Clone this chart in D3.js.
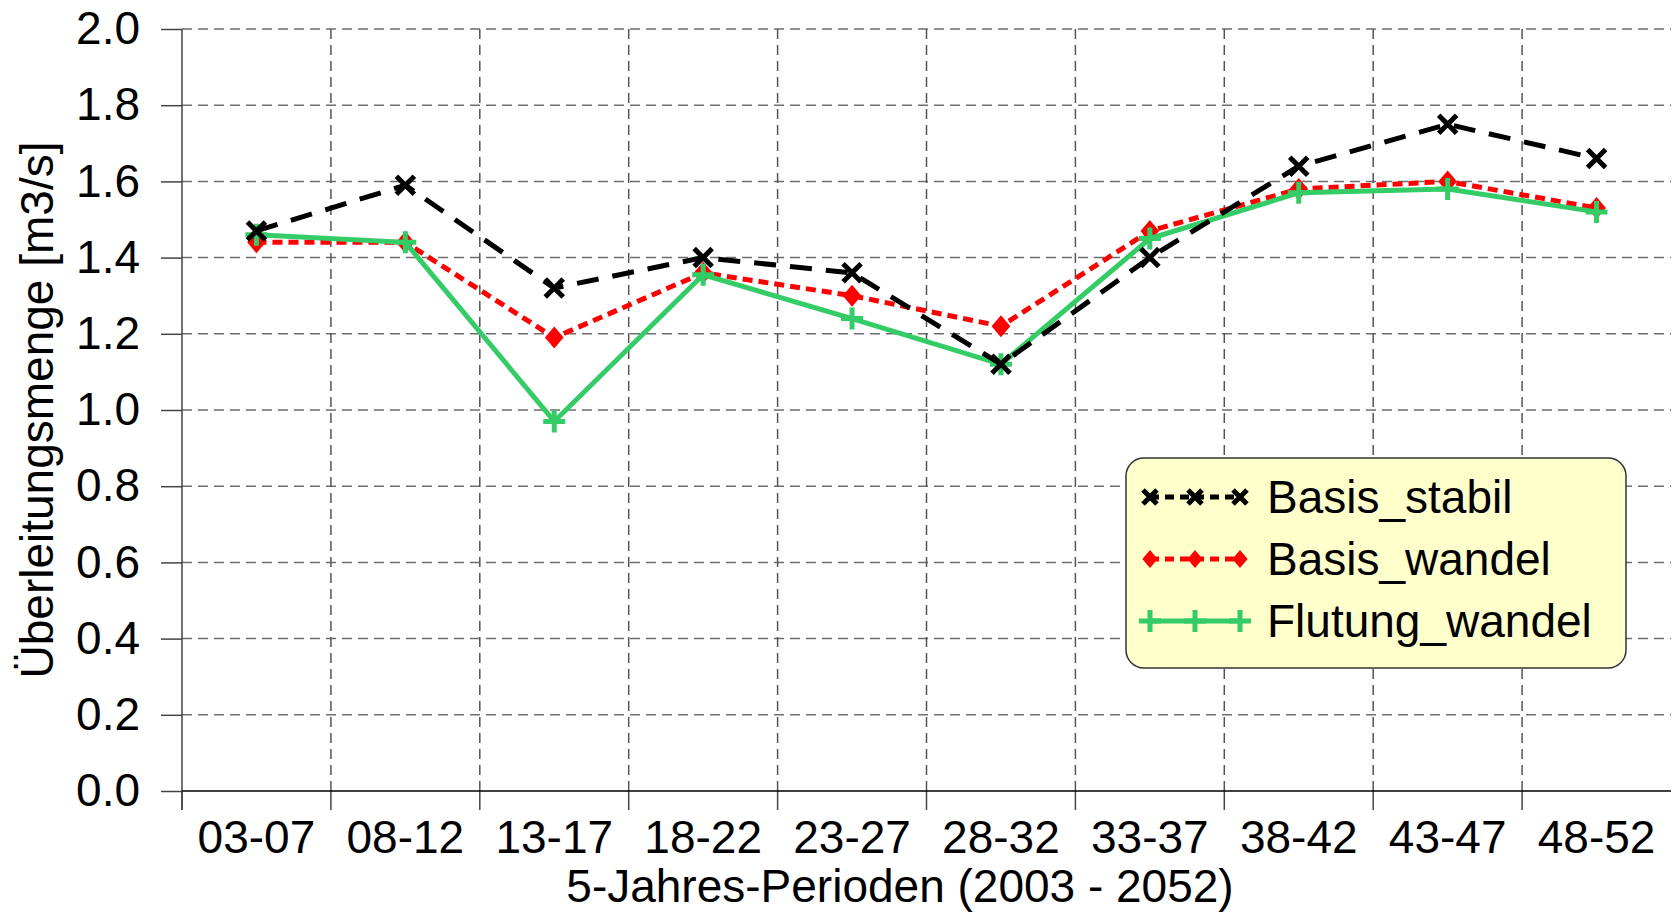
<!DOCTYPE html>
<html>
<head>
<meta charset="utf-8">
<script src="https://cdn.jsdelivr.net/npm/d3@7"></script>
<style>
  body { margin: 0; background: #fff; }
  text { font-family: "Liberation Sans", Arial, sans-serif; fill: #000; }
</style>
</head>
<body>
<div id="chart"></div>
<script>
// data
const periods = ["03-07", "08-12", "13-17", "18-22", "23-27", "28-32", "33-37", "38-42", "43-47", "48-52"];
const basisStabil   = [1.47, 1.59, 1.32, 1.40, 1.36, 1.12, 1.40, 1.64, 1.75, 1.66];
const basisWandel   = [1.44, 1.44, 1.19, 1.36, 1.30, 1.22, 1.47, 1.58, 1.60, 1.53];
const flutungWandel = [1.46, 1.44, 0.97, 1.355, 1.24, 1.12, 1.45, 1.57, 1.58, 1.52];
const yTicks = [0, 0.2, 0.4, 0.6, 0.8, 1.0, 1.2, 1.4, 1.6, 1.8, 2.0];
const seriesNames = ["Basis_stabil", "Basis_wandel", "Flutung_wandel"];

const W = 1677, H = 915;
const margin = { top: 29, right: 6, bottom: 124, left: 182 };

const x = d3.scaleBand()
  .domain(periods)
  .range([margin.left, W - margin.right])
  .padding(0);

const y = d3.scaleLinear()
  .domain([0, 2])
  .range([H - margin.bottom, margin.top]);

const cx = (d) => x(d) + x.bandwidth() / 2;

const svg = d3.select("#chart")
  .append("svg")
  .attr("width", W)
  .attr("height", H);

// horizontal grid (dashed) + tick stubs
svg.append("g")
  .selectAll("line")
  .data(yTicks.filter(d => d > 0))
  .join("line")
  .attr("x1", margin.left)
  .attr("x2", W - margin.right)
  .attr("y1", d => y(d))
  .attr("y2", d => y(d))
  .attr("stroke", "#6e6e6e")
  .attr("stroke-width", 1.5)
  .attr("stroke-dasharray", "10,6");

// vertical grid at band boundaries
const bounds = periods.slice(1);
svg.append("g")
  .selectAll("line")
  .data(bounds)
  .join("line")
  .attr("x1", d => x(d))
  .attr("x2", d => x(d))
  .attr("y1", y(2))
  .attr("y2", y(0))
  .attr("stroke", "#555")
  .attr("stroke-width", 1.5)
  .attr("stroke-dasharray", "10,6");

// tick stubs below x axis
svg.append("g")
  .selectAll("line")
  .data(periods)
  .join("line")
  .attr("x1", d => x(d))
  .attr("x2", d => x(d))
  .attr("y1", y(0))
  .attr("y2", y(0) + 19)
  .attr("stroke", "#444")
  .attr("stroke-width", 1.5);

// y axis
const yAxis = svg.append("g")
  .attr("transform", `translate(${margin.left},0)`)
  .call(d3.axisLeft(y).tickValues(yTicks).tickFormat(d3.format(".1f")).tickSize(21).tickPadding(21));
yAxis.select(".domain").remove();
yAxis.selectAll(".tick line").attr("stroke", "#444").attr("stroke-width", 1.5);
yAxis.selectAll("text").style("font-size", "46px");

svg.append("line")
  .attr("x1", margin.left).attr("x2", margin.left)
  .attr("y1", y(2)).attr("y2", y(0) + 19)
  .attr("stroke", "#444").attr("stroke-width", 1.5);

// x axis
const xAxis = svg.append("g")
  .attr("transform", `translate(0,${y(0)})`)
  .call(d3.axisBottom(x).tickSize(0).tickPadding(29));
xAxis.select(".domain").remove();
xAxis.selectAll("text").style("font-size", "46px");

svg.append("line")
  .attr("x1", margin.left).attr("x2", W - margin.right)
  .attr("y1", y(0)).attr("y2", y(0))
  .attr("stroke", "#000").attr("stroke-width", 1.5);

// axis titles
svg.append("text")
  .attr("transform", "rotate(-90)")
  .attr("x", -(y(0) + y(2)) / 2)
  .attr("y", 53)
  .style("text-anchor", "middle")
  .style("font-size", "46px")
  .text("Überleitungsmenge [m3/s]");

svg.append("text")
  .attr("x", 900)
  .attr("y", 902)
  .style("text-anchor", "middle")
  .style("font-size", "46px")
  .text("5-Jahres-Perioden (2003 - 2052)");

// marker helpers
function cross(g, s, color, w) {
  g.append("path")
    .attr("d", `M${-s},${-s}L${s},${s}M${-s},${s}L${s},${-s}`)
    .attr("stroke", color).attr("stroke-width", w).attr("fill", "none");
}
function plus(g, s, color, w) {
  g.append("path")
    .attr("d", `M${-s},0L${s},0M0,${-s}L0,${s}`)
    .attr("stroke", color).attr("stroke-width", w).attr("fill", "none");
}
function diamond(g, s, color) {
  g.append("path")
    .attr("d", `M0,${-s}L${s * 0.85},0L0,${s}L${-s * 0.85},0Z`)
    .attr("fill", color);
}

const series = [
  { name: seriesNames[1], values: basisWandel, color: "#ff0000", dash: "10,6", marker: (g, k) => diamond(g, k ? 9 : 11, "#ff0000") },
  { name: seriesNames[2], values: flutungWandel, color: "#33cc66", dash: null, marker: (g, k) => plus(g, 11, "#33cc66", 5) },
  { name: seriesNames[0], values: basisStabil, color: "#000000", dash: "22,14", marker: (g, k) => cross(g, k ? 7 : 9, "#000", 5) }
];

const line = d3.line()
  .x((d, i) => cx(periods[i]))
  .y(d => y(d));

series.forEach(s => {
  svg.append("path")
    .datum(s.values)
    .attr("fill", "none")
    .attr("stroke", s.color)
    .attr("stroke-width", 5)
    .attr("stroke-dasharray", s.dash)
    .attr("d", line);
  svg.append("g")
    .selectAll("g")
    .data(s.values)
    .join("g")
    .attr("transform", (d, i) => `translate(${cx(periods[i])},${y(d)})`)
    .each(function () { s.marker(d3.select(this), false); });
});

// legend
const legend = svg.append("g");
legend.append("rect")
  .attr("x", 1126).attr("y", 458)
  .attr("width", 500).attr("height", 210)
  .attr("rx", 18).attr("ry", 18)
  .attr("fill", "#ffffcc")
  .attr("stroke", "#333")
  .attr("stroke-width", 1.5);

const legendOrder = [series[2], series[0], series[1]];
legendOrder.forEach((s, i) => {
  const cy = 497 + i * 62;
  const row = legend.append("g").attr("transform", `translate(0,${cy})`);
  row.append("line")
    .attr("x1", 1150).attr("x2", 1240)
    .attr("y1", 0).attr("y2", 0)
    .attr("stroke", s.color)
    .attr("stroke-width", 5)
    .attr("stroke-dasharray", s.dash ? "9,6" : null);
  [1150, 1195, 1240].forEach(mx => {
    const m = row.append("g").attr("transform", `translate(${mx},0)`);
    s.marker(m, true);
  });
  row.append("text")
    .attr("x", 1267)
    .attr("y", 0)
    .attr("dy", "0.35em")
    .style("font-size", "46px")
    .text(s.name);
});
</script>
</body>
</html>
